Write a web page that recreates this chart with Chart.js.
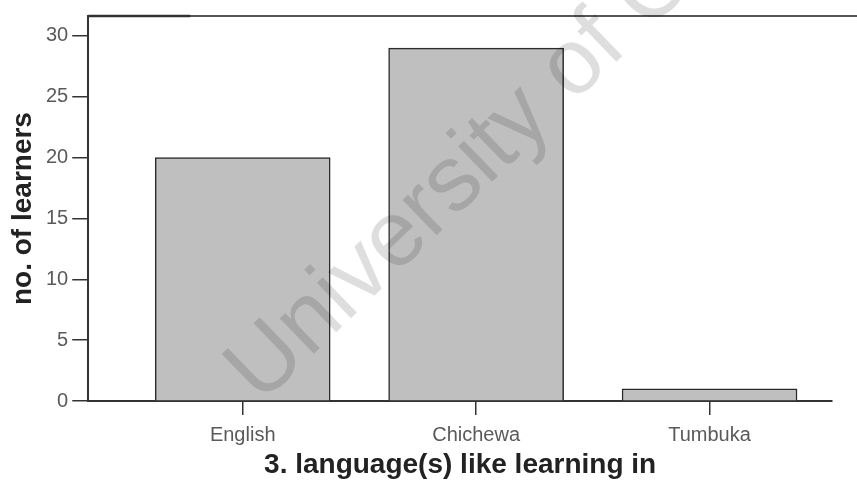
<!DOCTYPE html>
<html>
<head>
<meta charset="utf-8">
<script src="https://cdn.jsdelivr.net/npm/chart.js@4.4.1/dist/chart.umd.min.js"></script>
<style>
html,body{margin:0;padding:0;background:#fff;}
#wrap{width:857px;height:483px;position:relative;}
</style>
</head>
<body>
<div id="wrap"><canvas id="c" width="857" height="483"></canvas></div>
<script>
const categories = ["English", "Chichewa", "Tumbuka"];
const learners = [20, 29, 1];
const yTicks = [0, 5, 10, 15, 20, 25, 30];
const xTitle = "3. language(s) like learning in";
const yTitle = "no. of learners";
const watermark = "University of Cape Town";

const framePlugin = {
  id: 'frame',
  afterDraw(chart) {
    const {ctx, chartArea} = chart;
    ctx.save();
    ctx.strokeStyle = '#555';
    ctx.lineWidth = 2;
    ctx.beginPath();
    ctx.moveTo(chartArea.left, chartArea.top);
    ctx.lineTo(chart.width, chartArea.top);
    ctx.stroke();
    ctx.strokeStyle = '#333';
    ctx.lineWidth = 2.5;
    ctx.beginPath();
    ctx.moveTo(chartArea.left, chartArea.top);
    ctx.lineTo(chartArea.left + 102, chartArea.top);
    ctx.stroke();
    // watermark
    ctx.translate(261, 405);
    ctx.rotate(-44 * Math.PI / 180);
    ctx.font = '93px "Liberation Sans", Arial, sans-serif';
    ctx.fillStyle = 'rgba(0,0,0,0.13)';
    ctx.textBaseline = 'alphabetic';
    ctx.fillText(watermark, 0, 0);
    ctx.restore();
  }
};

new Chart(document.getElementById('c'), {
  type: 'bar',
  data: {
    datasets: [{
      data: learners.map((v, i) => ({x: i, y: v})),
      backgroundColor: '#bfbfbf',
      borderColor: '#2a2a2a',
      borderWidth: 1.5,
      borderSkipped: 'bottom',
      barThickness: 175
    }]
  },
  options: {
    responsive: false,
    animation: false,
    layout: {padding: {left: 0, right: 25, top: 15, bottom: 0}},
    plugins: {legend: {display: false}, tooltip: {enabled: false}},
    scales: {
      x: {
        type: 'linear',
        offset: false,
        min: -0.6617,
        max: 2.5246,
        afterBuildTicks(scale) { scale.ticks = categories.map((c, i) => ({value: i})); },
        ticks: {
          callback: (v) => categories[v],
          color: '#5a5a5a',
          font: {family: '"Liberation Sans", Arial, sans-serif', size: 20},
          padding: 8,
          maxRotation: 0,
          autoSkip: false
        },
        grid: {offset: false, drawOnChartArea: false, drawTicks: true, tickLength: 14, color: '#333', lineWidth: 1.5},
        border: {display: true, color: '#333', width: 2},
        title: {
          display: true,
          text: xTitle,
          color: '#222',
          font: {family: '"Liberation Sans", Arial, sans-serif', size: 28, weight: 'bold', lineHeight: 0.711},
          padding: {top: 0, bottom: 8}
        }
      },
      y: {
        min: 0,
        max: 31.64,
        afterBuildTicks(scale) { scale.ticks = yTicks.map(v => ({value: v})); },
        ticks: {
          color: '#5a5a5a',
          font: {family: '"Liberation Sans", Arial, sans-serif', size: 20},
          padding: 4
        },
        grid: {drawOnChartArea: false, drawTicks: true, tickLength: 16, color: '#333', lineWidth: 1.5},
        border: {display: true, color: '#333', width: 2},
        title: {
          display: true,
          text: yTitle,
          color: '#222',
          font: {family: '"Liberation Sans", Arial, sans-serif', size: 28, weight: 'bold', lineHeight: 1.0},
          padding: {top: 9, bottom: 5}
        }
      }
    }
  },
  plugins: [framePlugin]
});
</script>
</body>
</html>
